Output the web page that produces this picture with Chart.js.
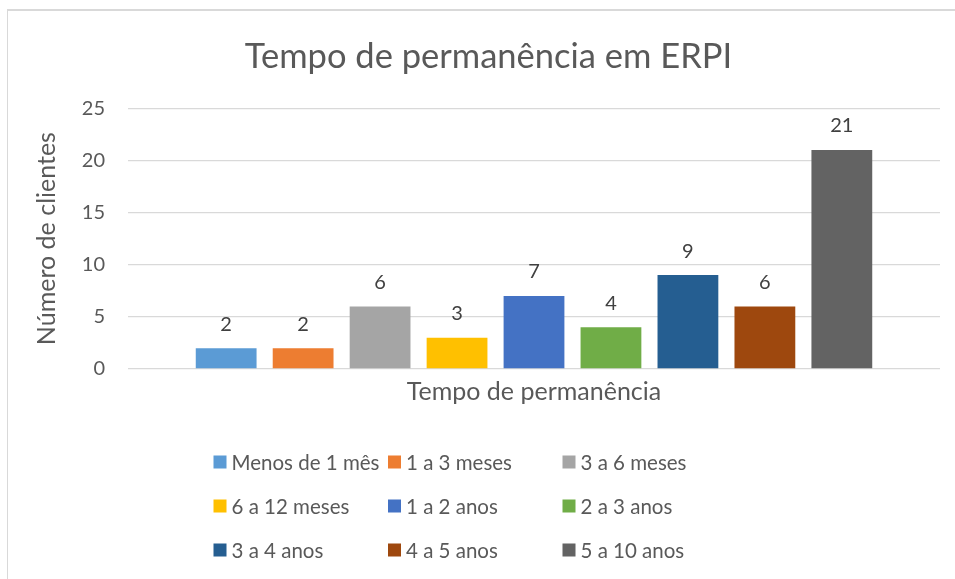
<!DOCTYPE html>
<html>
<head>
<meta charset="utf-8">
<script src="https://cdn.jsdelivr.net/npm/chart.js@4"></script>
<style>
  html, body { margin: 0; padding: 0; background: #fff; }
  #wrap { position: relative; width: 955px; height: 579px; overflow: hidden; }
  #frame { position: absolute; left: 7px; top: 9px; width: 1000px; height: 600px; border: 1px solid #d9d9d9; border-top-width: 2px; box-sizing: border-box; }
  canvas { position: absolute; left: 0; top: 0; }
</style>
</head>
<body>
<div id="wrap">
  <div id="frame"></div>
  <canvas id="chart" width="955" height="579"></canvas>
</div>
<script>
// data
const seriesNames = ["Menos de 1 mês", "1 a 3 meses", "3 a 6 meses", "6 a 12 meses", "1 a 2 anos", "2 a 3 anos", "3 a 4 anos", "4 a 5 anos", "5 a 10 anos"];
const seriesValues = [2, 2, 6, 3, 7, 4, 9, 6, 21];
const seriesColors = ["#5B9BD5", "#ED7D31", "#A5A5A5", "#FFC000", "#4472C4", "#70AD47", "#255E91", "#9E480E", "#636363"];
const yTicks = [0, 5, 10, 15, 20, 25];

const FONT = "Lato, 'Open Sans', sans-serif";

// value labels above each bar
const valueLabels = {
    id: "valueLabels",
    afterDatasetsDraw(chart) {
        const ctx = chart.ctx;
        ctx.save();
        ctx.font = "20px " + FONT;
        ctx.fillStyle = "#404040";
        ctx.textAlign = "center";
        ctx.textBaseline = "middle";
        chart.data.datasets.forEach((ds, i) => {
            const bar = chart.getDatasetMeta(i).data[0];
            ctx.fillText(String(ds.data[0]), bar.x, bar.y - 24);
        });
        ctx.restore();
    }
};

// legend in a 3 column grid, like the Excel one
const gridLegend = {
    id: "gridLegend",
    afterDraw(chart) {
        const ctx = chart.ctx;
        const cols = 3, colW = 174.5, rowH = 44, box = 13;
        const left = chart.width / 2 - 264;
        const top = chart.chartArea.bottom + 93;
        ctx.save();
        ctx.font = "20.5px " + FONT;
        ctx.textBaseline = "middle";
        ctx.textAlign = "left";
        chart.data.datasets.forEach((ds, i) => {
            const x = left + (i % cols) * colW;
            const y = top + Math.floor(i / cols) * rowH;
            ctx.fillStyle = ds.backgroundColor;
            ctx.fillRect(x, y - box / 2, box, box);
            ctx.fillStyle = "#595959";
            ctx.fillText(ds.label, x + 18, y + 1);
        });
        ctx.restore();
    }
};

// Excel centres the title a little right of the canvas middle
const shiftTitle = {
    id: "shiftTitle",
    afterLayout(chart) {
        if (chart.titleBlock) {
            chart.titleBlock.left += 15;
            chart.titleBlock.right += 15;
        }
    }
};

const datasets = seriesNames.map((name, i) => ({
    label: name,
    data: [seriesValues[i]],
    backgroundColor: seriesColors[i],
    categoryPercentage: 0.853,
    barPercentage: 0.79
}));

new Chart(document.getElementById("chart").getContext("2d"), {
    type: "bar",
    data: { labels: [""], datasets: datasets },
    options: {
        responsive: false,
        animation: false,
        events: [],
        layout: { padding: { left: 7, right: 15, top: 0, bottom: 172 } },
        plugins: {
            legend: { display: false },
            tooltip: { enabled: false },
            title: {
                display: true,
                text: "Tempo de permanência em ERPI",
                color: "#595959",
                font: { family: FONT, size: 34.5, weight: "normal" },
                padding: { top: 36.4, bottom: 30.4 }
            }
        },
        scales: {
            x: {
                grid: { display: false },
                border: { display: false },
                ticks: { display: false },
                afterFit(axis) { axis.height = 38; },
                title: {
                    display: true,
                    text: "Tempo de permanência",
                    color: "#595959",
                    font: { family: FONT, size: 25 },
                    padding: { top: 8, bottom: 0 }
                }
            },
            y: {
                min: 0,
                max: 25,
                afterBuildTicks(axis) {
                    axis.ticks = yTicks.map(v => ({ value: v }));
                },
                afterFit(axis) { axis.width = 121; },
                grid: { color: "#d9d9d9", lineWidth: 1.3, drawTicks: false },
                border: { display: false },
                ticks: {
                    color: "#595959",
                    padding: 23,
                    font: { family: FONT, size: 20 }
                },
                title: {
                    display: true,
                    text: "Número de clientes",
                    color: "#595959",
                    font: { family: FONT, size: 25 },
                    padding: { top: 25, bottom: 0 }
                }
            }
        }
    },
    plugins: [valueLabels, gridLegend, shiftTitle]
});
</script>
</body>
</html>
